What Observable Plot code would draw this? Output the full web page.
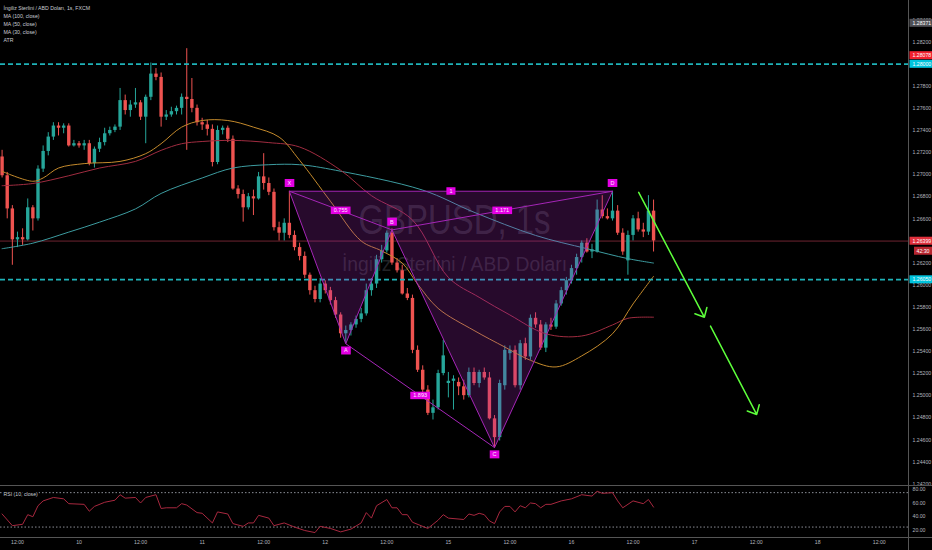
<!DOCTYPE html>
<html><head><meta charset="utf-8">
<script src="https://cdn.jsdelivr.net/npm/d3@7"></script>
<script src="https://cdn.jsdelivr.net/npm/@observablehq/plot@0.6"></script>
<style>
html,body{margin:0;padding:0;background:#000;overflow:hidden;}
#wrap{position:relative;width:932px;height:550px;background:#000;overflow:hidden;}
#wrap svg{display:block;}
.sep{position:absolute;background:#555;}
</style></head><body>
<div id="wrap"></div>
<script>
// ---------- DATA (1h candles; hour index 0 = day 9, 12:00) ----------
const firstHour = -3;
const open = [
1.2716,1.2699,1.2669,1.2641,1.2643,1.2641,1.2670,1.2660,1.2705,1.2721,
1.2734,1.2744,1.2742,1.2744,1.2726,1.2728,1.2726,1.2728,1.2710,1.2723,
1.2729,1.2737,1.2740,1.2743,1.2767,1.2758,1.2763,1.2765,1.2752,1.2770,
1.2791,1.2788,1.2752,1.2754,1.2757,1.2760,1.2770,1.2768,1.2760,1.2747,
1.2745,1.2741,1.2711,1.2740,1.2742,1.2732,1.2687,1.2682,1.2670,1.2680,
1.2678,1.2698,1.2692,1.2684,1.2652,1.2647,1.2656,1.2645,1.2634,1.2626,
1.2609,1.2595,1.2587,1.2601,1.2595,1.2586,1.2573,1.2556,1.2559,1.2564,
1.2569,1.2574,1.2595,1.2601,1.2623,1.2631,1.2647,1.2620,1.2613,1.2592,
1.2588,1.2541,1.2523,1.2505,1.2484,1.2489,1.2520,1.2511,1.2513,1.2512,
1.2508,1.2500,1.2521,1.2511,1.2521,1.2516,1.2479,1.2462,1.2509,1.2538,
1.2541,1.2509,1.2547,1.2535,1.2570,1.2564,1.2543,1.2564,1.2562,1.2583,
1.2595,1.2604,1.2615,1.2625,1.2638,1.2630,1.2630,1.2668,1.2662,1.2660,
1.2667,1.2647,1.2622,1.2645,1.2660,1.2650,1.2648,1.2667];
const high = [
1.2722,1.2702,1.2672,1.2648,1.2651,1.2678,1.2672,1.2708,1.2726,1.2738,
1.2747,1.2747,1.2746,1.2746,1.2731,1.2730,1.2731,1.2731,1.2725,1.2733,
1.2742,1.2743,1.2745,1.2778,1.2772,1.2767,1.2778,1.2767,1.2772,1.2801,
1.2796,1.2792,1.2758,1.2761,1.2762,1.2773,1.2814,1.2787,1.2763,1.2751,
1.2749,1.2745,1.2744,1.2744,1.2744,1.2735,1.2690,1.2686,1.2683,1.2686,
1.2702,1.2719,1.2697,1.2687,1.2657,1.2660,1.2685,1.2649,1.2638,1.2630,
1.2611,1.2599,1.2606,1.2604,1.2598,1.2589,1.2575,1.2563,1.2566,1.2572,
1.2579,1.2601,1.2606,1.2627,1.2636,1.2649,1.2651,1.2624,1.2618,1.2597,
1.2591,1.2545,1.2527,1.2509,1.2496,1.2523,1.2550,1.2521,1.2518,1.2516,
1.2514,1.2525,1.2525,1.2523,1.2525,1.2521,1.2482,1.2514,1.2545,1.2545,
1.2545,1.2550,1.2552,1.2573,1.2575,1.2568,1.2566,1.2570,1.2586,1.2598,
1.2607,1.2618,1.2628,1.2640,1.2642,1.2637,1.2677,1.2681,1.2669,1.2685,
1.2672,1.2651,1.2649,1.2663,1.2666,1.2656,1.2681,1.2677];
const low = [
1.2697,1.2660,1.2618,1.2634,1.2636,1.2640,1.2649,1.2658,1.2702,1.2717,
1.2731,1.2735,1.2737,1.2725,1.2725,1.2724,1.2722,1.2708,1.2706,1.2720,
1.2726,1.2735,1.2738,1.2740,1.2754,1.2752,1.2760,1.2749,1.2728,1.2767,
1.2785,1.2743,1.2749,1.2752,1.2754,1.2754,1.2722,1.2756,1.2744,1.2740,
1.2735,1.2707,1.2709,1.2736,1.2729,1.2686,1.2678,1.2657,1.2668,1.2663,
1.2677,1.2686,1.2681,1.2649,1.2640,1.2640,1.2642,1.2631,1.2622,1.2606,
1.2591,1.2584,1.2584,1.2592,1.2582,1.2570,1.2552,1.2547,1.2554,1.2561,
1.2566,1.2572,1.2590,1.2597,1.2620,1.2629,1.2618,1.2611,1.2591,1.2586,
1.2538,1.2521,1.2502,1.2482,1.2478,1.2487,1.2518,1.2498,1.2487,1.2500,
1.2496,1.2498,1.2509,1.2507,1.2514,1.2478,1.2453,1.2459,1.2505,1.2532,
1.2507,1.2505,1.2532,1.2532,1.2561,1.2541,1.2539,1.2559,1.2560,1.2581,
1.2591,1.2601,1.2609,1.2620,1.2629,1.2624,1.2629,1.2660,1.2659,1.2658,
1.2645,1.2627,1.2609,1.2640,1.2648,1.2643,1.2645,1.2630];
const close = [
1.2699,1.2669,1.2641,1.2643,1.2641,1.2670,1.2660,1.2705,1.2721,1.2734,
1.2744,1.2742,1.2744,1.2726,1.2728,1.2726,1.2728,1.2710,1.2723,1.2729,
1.2737,1.2740,1.2743,1.2767,1.2758,1.2763,1.2765,1.2752,1.2770,1.2791,
1.2788,1.2752,1.2754,1.2757,1.2760,1.2770,1.2768,1.2760,1.2747,1.2745,
1.2741,1.2711,1.2740,1.2742,1.2732,1.2687,1.2682,1.2670,1.2680,1.2678,
1.2698,1.2692,1.2684,1.2652,1.2647,1.2656,1.2645,1.2634,1.2626,1.2609,
1.2595,1.2587,1.2601,1.2595,1.2586,1.2573,1.2556,1.2559,1.2564,1.2569,
1.2574,1.2595,1.2601,1.2623,1.2631,1.2647,1.2620,1.2613,1.2592,1.2588,
1.2541,1.2523,1.2505,1.2484,1.2489,1.2520,1.2536,1.2513,1.2515,1.2508,
1.2500,1.2521,1.2511,1.2521,1.2516,1.2479,1.2462,1.2511,1.2541,1.2541,
1.2509,1.2547,1.2535,1.2570,1.2564,1.2543,1.2564,1.2562,1.2583,1.2595,
1.2604,1.2615,1.2625,1.2638,1.2630,1.2632,1.2668,1.2662,1.2660,1.2667,
1.2647,1.2630,1.2645,1.2660,1.2650,1.2648,1.2667,1.2640];

// moving averages (hour index, value)
const ma100T = [-3,3,10,16,23,28,36,42,49,55,62,79,89,101,111,119,124];
const ma100  = [1.2633,1.2638,1.2648,1.2657,1.2669,1.2683,1.2697,1.2706,1.2709,1.2709,1.2704,1.2686,1.2666,1.2645,1.2633,1.2624,1.2620];
const ma50T  = [-3,3,10,16,23,28,32,36,42,49,55,63,69,77,84,90,96,103,110,116,119,124];
const ma50   = [1.2690,1.2692,1.2699,1.2706,1.2712,1.2722,1.2728,1.2730,1.2731,1.2729,1.2725,1.2704,1.2681,1.2659,1.2607,1.2589,1.2573,1.2556,1.2554,1.2564,1.2570,1.2571];
const ma30T  = [-3,3,5,8,13,20,25,28,32,36,41,46,51,55,61,67,71,75,78,82,89,95,100,105,110,116,120,124];
const ma30   = [1.2703,1.2694,1.2697,1.2706,1.2710,1.2712,1.2719,1.2728,1.2743,1.2749,1.2749,1.2743,1.2734,1.2713,1.2676,1.2640,1.2631,1.2620,1.2601,1.2579,1.2559,1.2544,1.2532,1.2526,1.2536,1.2556,1.2583,1.2608];

// RSI (10, close)
const rsiT = [-3,-1,1,2,3,4,5,7,9,10,13,14,15,17,19,20,21,23,24,25,27,28,29,31,32,33,35,36,38,39,41,42,44,45,46,47,49,50,52,54,56,58,59,61,63,65,67,68,69,70,72,73,74,75,76,77,80,82,83,84,87,88,89,90,91,92,93,94,95,96,97,98,99,100,101,102,103,104,106,108,110,112,113,114,116,117,118,120,122,123,124];
const rsiV = [44,27,29,43,40,56,63,68,66,59,58,48,55,61,64,72,67,68,60,68,72,52,53,53,59,57,46,45,31,47,44,30,26,31,31,42,38,27,31,25,20,17,26,23,18,22,31,46,38,56,65,53,53,43,43,32,23,35,43,38,36,44,42,45,43,34,30,47,55,55,47,56,53,60,59,53,58,58,63,66,72,70,77,74,75,63,53,63,59,65,54];
const rsiBands = [75, 25];
const rsiTicks = [20, 40, 60, 80];

// XABCD pattern
const patNames = ["X","A","B","C","D"];
const patT = [53, 64, 73, 93, 116];
const patP = [1.2685, 1.2547, 1.2650, 1.2453, 1.2685];
const ratioLabels = [{a:0,b:2,text:"0.755"},{a:2,b:4,text:"1.171"},{a:1,b:3,text:"1.893"},{a:0,b:4,text:"1"}];

// horizontal levels and right-axis tags
const levels = [1.28000, 1.26050];
const lastPrice = 1.26399;
const tags = [
  {p:1.28371, label:"1.28371", bg:"#4f4f55"},
  {p:1.28078, label:"1.28078", bg:"#f2202e"},
  {p:1.28000, label:"1.28000", bg:"#00c3dc"},
  {p:1.26399, label:"1.26399", bg:"#e0303c"},
  {p:1.26050, label:"1.26050", bg:"#00c3dc"}];
const countdown = {p:1.26399, label:"42:30", bg:"#b8262f"};

// arrows drawn on the chart (hour index, price)
const arrows = [
  {t1:121.1, p1:1.2684, t2:133.9, p2:1.2571},
  {t1:135.1, p1:1.2563, t2:144.1, p2:1.2483}];

// ticks
const yTicks = [1.242,1.244,1.246,1.248,1.250,1.252,1.254,1.256,1.258,1.260,1.262,1.264,1.266,1.268,1.270,1.272,1.274,1.276,1.278,1.280,1.282,1.284];
const timeT = [0,12,24,36,48,60,72,84,96,108,120,132,144,156,168];
const timeLabels = ["12:00","10","12:00","11","12:00","12","12:00","15","12:00","16","12:00","17","12:00","18","12:00"];

const legendLines = ["İngiliz Sterlini / ABD Doları, 1s, FXCM","MA (100, close)","MA (50, close)","MA (30, close)","ATR"];
const watermark1 = ["GBPUSD, 1s"];
const watermark2 = ["İngiliz Sterlini / ABD Doları"];

// ---------- BUILD ----------
const FONT = "'Liberation Sans', Arial, sans-serif";
const UP = "#26a69a", DOWN = "#ef5350";
const xDomain = [-3.31, 173.7];
const candles = open.map((o,i)=>({t:firstHour+i, o, h:high[i], l:low[i], c:close[i]}));
const isUp = d => d.c >= d.o;
const isDown = d => d.c < d.o;
const pts = (T,V) => T.map((t,i)=>({t, v:V[i]}));
const pat = patNames.map((n,i)=>({n, t:patT[i], p:patP[i]}));
const tris = [[0,1,2],[0,2,4],[2,3,4]].flatMap((tr,k)=>tr.map(j=>({t:patT[j], p:patP[j], k})));
const edges = [[0,1],[1,2],[2,3],[3,4],[0,2],[2,4],[0,4],[1,3]];
const ratios = ratioLabels.map(r=>({t:(patT[r.a]+patT[r.b])/2, p:(patP[r.a]+patP[r.b])/2, text:r.text}));
const timeMap = new Map(timeT.map((t,i)=>[t,timeLabels[i]]));

const main = Plot.plot({
  width:932, height:485, marginLeft:0, marginRight:24, marginTop:0, marginBottom:0,
  style:{background:"#000", color:"#b2b5be", fontFamily:FONT, fontSize:"5.2px"},
  x:{domain:xDomain, axis:null},
  y:{domain:[1.24187, 1.28576], axis:null},
  marks:[
    Plot.text(watermark1, {frameAnchor:"middle", text:d=>d, dy:-22.5, fontSize:42, fill:"#787b86", fillOpacity:0.3, ariaDescription:"wm1"}),
    Plot.text(watermark2, {frameAnchor:"middle", text:d=>d, dy:22, fontSize:20, fill:"#787b86", fillOpacity:0.3, ariaDescription:"wm2"}),
    Plot.ruleY([lastPrice], {y:d=>d, stroke:"#6e2430", strokeWidth:1}),
    Plot.ruleX(candles, {filter:isUp, x:"t", y1:"l", y2:"h", stroke:UP, strokeWidth:1}),
    Plot.ruleX(candles, {filter:isDown, x:"t", y1:"l", y2:"h", stroke:DOWN, strokeWidth:1}),
    Plot.ruleX(candles, {filter:isUp, x:"t", y1:"o", y2:"c", stroke:UP, strokeWidth:3.4}),
    Plot.ruleX(candles, {filter:isDown, x:"t", y1:"o", y2:"c", stroke:DOWN, strokeWidth:3.4}),
    Plot.line(pts(ma100T, ma100), {x:"t", y:"v", stroke:"#3d9ca0", strokeWidth:1, curve:"catmull-rom"}),
    Plot.line(pts(ma50T, ma50), {x:"t", y:"v", stroke:"#a02c40", strokeWidth:1, curve:"catmull-rom"}),
    Plot.line(pts(ma30T, ma30), {x:"t", y:"v", stroke:"#c48a2c", strokeWidth:1, curve:"catmull-rom"}),
    Plot.ruleY(levels, {y:d=>d, stroke:"#1fb2b8", strokeWidth:1.6, strokeDasharray:"5,3"}),
    Plot.line(tris, {x:"t", y:"p", z:"k", fill:"#9c27b0", fillOpacity:0.25, stroke:null, curve:"linear-closed"}),
    Plot.link(edges, {x1:e=>patT[e[0]], y1:e=>patP[e[0]], x2:e=>patT[e[1]], y2:e=>patP[e[1]], stroke:"#a626b8", strokeWidth:1}),
    Plot.text(pat, {filter:d=>d.n==="X"||d.n==="B"||d.n==="D", x:"t", y:"p", text:"n", dy:-8, fontSize:5.5, fill:"#ffe8ff", ariaDescription:"plet"}),
    Plot.text(pat, {filter:d=>d.n==="A"||d.n==="C", x:"t", y:"p", text:"n", dy:7, fontSize:5.5, fill:"#ffe8ff", ariaDescription:"plet"}),
    Plot.text(ratios, {x:"t", y:"p", text:"text", fontSize:5.5, fill:"#ffe8ff", ariaDescription:"prat"}),
    Plot.arrow(arrows, {x1:"t1", y1:"p1", x2:"t2", y2:"p2", stroke:"#5dff3b", strokeWidth:1.5, headLength:10, headAngle:85}),
    Plot.text([legendLines.join("\n")], {frameAnchor:"top-left", text:d=>d, dx:3, dy:4.4, lineAnchor:"top", lineHeight:1.5, fontSize:5.2, fill:"#c9ccd4"}),
    Plot.axisY({ticks:yTicks, anchor:"right", tickSize:0, tickPadding:4, tickFormat:d=>d.toFixed(5), fontSize:5.2, fill:"#b2b5be", label:null}),
    Plot.text(tags, {y:"p", frameAnchor:"right", dx:4, textAnchor:"start", text:"label", fontSize:5.2, fill:"#ffffff", ariaDescription:"tag"}),
    Plot.text([countdown], {y:"p", frameAnchor:"right", dx:8, dy:10, textAnchor:"start", text:"label", fontSize:5.2, fill:"#ffffff", ariaDescription:"tag2"})
  ]
});

const rsiPlot = Plot.plot({
  width:932, height:65, marginLeft:0, marginRight:24, marginTop:0, marginBottom:13,
  style:{background:"#000", color:"#b2b5be", fontFamily:FONT, fontSize:"5.2px"},
  x:{domain:xDomain, axis:null},
  y:{domain:[9.83, 85.38], axis:null},
  marks:[
    Plot.ruleY(rsiBands, {y:d=>d, stroke:"#8a8d96", strokeWidth:1, strokeDasharray:"1.5,2"}),
    Plot.line(pts(rsiT, rsiV), {x:"t", y:"v", stroke:"#a8283f", strokeWidth:1}),
    Plot.text(["RSI (10, close)"], {frameAnchor:"top-left", text:d=>d, dx:3, dy:9, lineAnchor:"middle", fontSize:5.2, fill:"#c9ccd4", stroke:"#000", strokeWidth:3}),
    Plot.axisY({ticks:rsiTicks, anchor:"right", tickSize:0, tickPadding:4, tickFormat:d=>d.toFixed(2), fontSize:5.2, fill:"#b2b5be", label:null}),
    Plot.axisX({ticks:timeT, anchor:"bottom", tickSize:0, tickPadding:3, tickFormat:d=>timeMap.get(d), fontSize:5.2, fill:"#b2b5be", label:null})
  ]
});

const wrap = document.getElementById("wrap");
wrap.appendChild(main);
wrap.appendChild(rsiPlot);

function addSep(l,t,w,h){const d=document.createElement("div");d.className="sep";d.style.left=l+"px";d.style.top=t+"px";d.style.width=w+"px";d.style.height=h+"px";wrap.appendChild(d);}
addSep(0,485,932,1);
addSep(0,537,932,1);
addSep(908,0,1,550);

const NS = "http://www.w3.org/2000/svg";
function groups(svg, key){
  return Array.from(svg.querySelectorAll("g")).filter(g => g.getAttribute("aria-description") === key);
}
function boxify(svg, key, colorOf, padX, h){
  groups(svg, key).forEach(g=>{
    g.querySelectorAll("text").forEach((t,i)=>{
      const b = t.getBBox();
      const r = document.createElementNS(NS,"rect");
      r.setAttribute("x", b.x - padX);
      r.setAttribute("y", b.y + b.height/2 - h/2);
      r.setAttribute("width", b.width + 2*padX);
      r.setAttribute("height", h);
      r.setAttribute("fill", colorOf(i));
      r.setAttribute("fill-opacity", 1);
      r.setAttribute("stroke", "none");
      const tr = t.getAttribute("transform"); if (tr) r.setAttribute("transform", tr);
      t.parentNode.insertBefore(r, t);
    });
  });
}
boxify(main, "tag", i=>tags[i].bg, 3, 8);
boxify(main, "tag2", ()=>countdown.bg, 2.5, 8);
boxify(main, "plet", ()=>"#e400e4", 2.8, 8);
boxify(main, "prat", ()=>"#e400e4", 3, 7.5);

function stretch(svg, key, len){
  groups(svg, key).forEach(g=>g.querySelectorAll("text").forEach(t=>{
    t.setAttribute("textLength", len);
    t.setAttribute("lengthAdjust", "spacingAndGlyphs");
  }));
}
stretch(main, "wm1", 192);
stretch(main, "wm2", 225);
</script></body></html>
